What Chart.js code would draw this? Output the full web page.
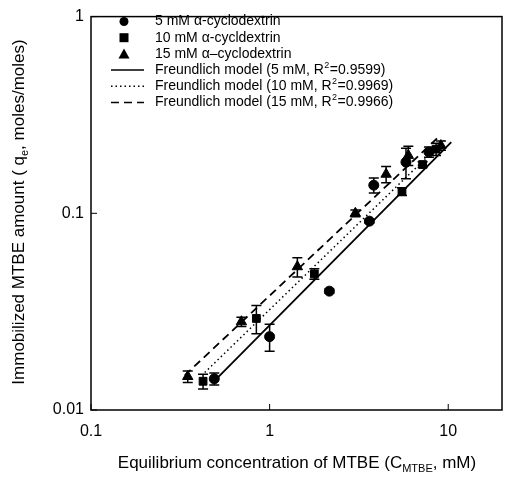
<!DOCTYPE html>
<html>
<head>
<meta charset="utf-8">
<script src="https://cdn.jsdelivr.net/npm/chart.js@4/dist/chart.umd.min.js"></script>
<style>
  html, body { margin: 0; padding: 0; background: #fff; }
  #wrap { width: 510px; height: 477px; }
</style>
</head>
<body>
<div id="wrap"><canvas id="myChart" width="510" height="477"></canvas></div>
<script>
//-- data ---->
var xTicks = [0.1, 1, 10];
var yTicks = [0.01, 0.1, 1];

// 5 mM alpha-cyclodextrin (circles)
var c5x   = [0.49, 1.0, 2.16, 3.62, 3.83, 5.8, 7.8];
var c5y   = [0.0144, 0.0236, 0.0402, 0.0912, 0.139, 0.182, 0.205];
var c5err = [0.001, 0.0037, 0.001, 0.002, 0.012, 0.032, 0.012];

// 10 mM alpha-cyclodextrin (squares)
var c10x   = [0.424, 0.843, 1.78, 5.51, 7.19, 8.55];
var c10y   = [0.0140, 0.0292, 0.0492, 0.129, 0.177, 0.212];
var c10err = [0.0012, 0.0048, 0.003, 0.006, 0.006, 0.015];

// 15 mM alpha-cyclodextrin (triangles)
var c15x   = [0.348, 0.695, 1.43, 3.02, 4.49, 5.98, 9.1];
var c15y   = [0.0148, 0.0281, 0.0535, 0.100, 0.158, 0.197, 0.221];
var c15err = [0.001, 0.0015, 0.006, 0.004, 0.015, 0.022, 0.012];

// Freundlich model lines (end points)
var fit5x  = [0.512, 10.4];
var fit5y  = [0.0146, 0.230];
var fit10x = [0.433, 9.5];
var fit10y = [0.0155, 0.235];
var fit15x = [0.335, 8.9];
var fit15y = [0.0150, 0.246];

var legendLabels = [
    '5 mM \u03b1-cyclodextrin',
    '10 mM \u03b1-cycldextrin',
    '15 mM \u03b1\u2013cyclodextrin',
    'Freundlich model (5 mM, R\u00b2=0.9599)',
    'Freundlich model (10 mM, R\u00b2=0.9969)',
    'Freundlich model (15 mM, R\u00b2=0.9966)'
];

function pts(xs, ys) {
    var out = [];
    for (let i = 0; i < xs.length; i++) out.push({x: xs[i], y: ys[i]});
    return out;
}

var FONT = '"Liberation Sans", Arial, Helvetica, sans-serif';

//-- error bars, frame, inner ticks, legend, axis titles ---->
var extras = {
    id: 'extras',
    afterDatasetsDraw: function(chart) {
        var ctx = chart.ctx;
        var xs = chart.scales.x, ys = chart.scales.y;
        var a = chart.chartArea;
        ctx.save();
        ctx.strokeStyle = '#000';
        ctx.fillStyle = '#000';

        // error bars
        ctx.lineWidth = 1.5;
        chart.data.datasets.forEach(function(ds) {
            if (!ds.errors) return;
            ds.data.forEach(function(p, i) {
                var px = xs.getPixelForValue(p.x);
                var top = ys.getPixelForValue(p.y + ds.errors[i]);
                var bot = ys.getPixelForValue(p.y - ds.errors[i]);
                ctx.beginPath();
                ctx.moveTo(px, top); ctx.lineTo(px, bot);
                ctx.moveTo(px - 5, top); ctx.lineTo(px + 5, top);
                ctx.moveTo(px - 5, bot); ctx.lineTo(px + 5, bot);
                ctx.stroke();
            });
        });

        // frame
        ctx.lineWidth = 1.5;
        ctx.strokeRect(a.left, a.top, a.right - a.left, a.bottom - a.top);

        // inner ticks
        ctx.lineWidth = 1;
        ctx.beginPath();
        xTicks.forEach(function(v) {
            var px = xs.getPixelForValue(v);
            ctx.moveTo(px, a.bottom); ctx.lineTo(px, a.bottom - 6);
        });
        yTicks.forEach(function(v) {
            var py = ys.getPixelForValue(v);
            ctx.moveTo(a.left, py); ctx.lineTo(a.left + 6, py);
        });
        ctx.stroke();

        // legend
        var lx = 124, tx = 155, ly = 21.5, step = 16.2;
        var lf = '14px ' + FONT;
        ctx.font = lf;
        ctx.textBaseline = 'middle';
        ctx.textAlign = 'left';
        chart.data.datasets.forEach(function(ds, i) {
            var y = ly + i * step;
            if (ds.type === 'line') {
                ctx.lineWidth = 1.5;
                ctx.setLineDash(ds.borderDash || []);
                ctx.beginPath();
                ctx.moveTo(lx - 13, y); ctx.lineTo(lx + 20, y);
                ctx.stroke();
                ctx.setLineDash([]);
            } else {
                ctx.beginPath();
                if (ds.pointStyle === 'circle') {
                    ctx.arc(lx, y, 4.5, 0, Math.PI * 2);
                } else if (ds.pointStyle === 'rect') {
                    ctx.rect(lx - 4.5, y - 4.5, 9, 9);
                } else {
                    ctx.moveTo(lx, y - 5.5); ctx.lineTo(lx + 5.5, y + 4.5); ctx.lineTo(lx - 5.5, y + 4.5);
                    ctx.closePath();
                }
                ctx.fill();
            }
            var txt = legendLabels[i];
            var k = txt.indexOf('\u00b2');
            if (k < 0) {
                ctx.fillText(txt, tx, y);
            } else {
                var before = txt.slice(0, k), after = txt.slice(k + 1);
                ctx.fillText(before, tx, y);
                var w = ctx.measureText(before).width;
                ctx.font = '9px ' + FONT;
                ctx.fillText('2', tx + w + 0.5, y - 5);
                var w2 = ctx.measureText('2').width;
                ctx.font = lf;
                ctx.fillText(after, tx + w + w2 + 1, y);
            }
        });

        // x title with subscript
        ctx.textBaseline = 'alphabetic';
        var big = '17px ' + FONT, small = '11px ' + FONT;
        var p1 = 'Equilibrium concentration of MTBE (C', p2 = 'MTBE', p3 = ', mM)';
        ctx.font = big; var w1 = ctx.measureText(p1).width, w3 = ctx.measureText(p3).width;
        ctx.font = small; var w2s = ctx.measureText(p2).width;
        var total = w1 + w2s + w3;
        var sx = 297 - total / 2, by = 468;
        ctx.font = big; ctx.fillText(p1, sx, by);
        ctx.font = small; ctx.fillText(p2, sx + w1, by + 4);
        ctx.font = big; ctx.fillText(p3, sx + w1 + w2s, by);

        // y title with subscript
        ctx.save();
        ctx.translate(24, 212);
        ctx.rotate(-Math.PI / 2);
        var q1 = 'Immobilized MTBE amount ( q', q2 = 'e', q3 = ', moles/moles)';
        ctx.font = big; var v1 = ctx.measureText(q1).width, v3 = ctx.measureText(q3).width;
        ctx.font = small; var v2 = ctx.measureText(q2).width;
        var sy = -(v1 + v2 + v3) / 2;
        ctx.font = big; ctx.fillText(q1, sy, 0);
        ctx.font = small; ctx.fillText(q2, sy + v1, 4);
        ctx.font = big; ctx.fillText(q3, sy + v1 + v2, 0);
        ctx.restore();

        ctx.restore();
    }
};

var ctx = document.getElementById('myChart');
var myChart = new Chart(ctx, {
    type: 'scatter',
    data: {
        datasets: [
            { label: legendLabels[0], data: pts(c5x, c5y), errors: c5err,
              pointStyle: 'circle', pointRadius: 5, backgroundColor: '#000', borderColor: '#000', order: 0 },
            { label: legendLabels[1], data: pts(c10x, c10y), errors: c10err,
              pointStyle: 'rect', pointRadius: 5.5, backgroundColor: '#000', borderColor: '#000', order: 0 },
            { label: legendLabels[2], data: pts(c15x, c15y), errors: c15err,
              pointStyle: 'triangle', pointRadius: 6, backgroundColor: '#000', borderColor: '#000', order: 0 },
            { type: 'line', label: legendLabels[3], data: pts(fit5x, fit5y),
              borderColor: '#000', borderWidth: 1.8, pointRadius: 0, fill: false, order: 1 },
            { type: 'line', label: legendLabels[4], data: pts(fit10x, fit10y), borderDash: [1.5, 3],
              borderColor: '#000', borderWidth: 1.5, pointRadius: 0, fill: false, order: 1 },
            { type: 'line', label: legendLabels[5], data: pts(fit15x, fit15y), borderDash: [8, 5],
              borderColor: '#000', borderWidth: 1.8, pointRadius: 0, fill: false, order: 1 }
        ]
    },
    options: {
        responsive: false,
        animation: false,
        layout: { padding: { top: 12, right: 8, left: 0, bottom: 0 } },
        plugins: { legend: { display: false }, tooltip: { enabled: false } },
        scales: {
            x: {
                type: 'logarithmic', min: 0.1, max: 20,
                afterBuildTicks: function(s) { s.ticks = xTicks.map(v => ({value: v})); },
                afterFit: function(s) { s.height = 67; },
                grid: { display: false, drawTicks: false },
                border: { display: false },
                ticks: { color: '#000', font: { family: FONT, size: 16 }, padding: 12,
                         maxRotation: 0, autoSkip: false, callback: v => String(v) }
            },
            y: {
                type: 'logarithmic', min: 0.01, max: 1,
                afterBuildTicks: function(s) { s.ticks = yTicks.map(v => ({value: v})); },
                afterFit: function(s) { s.width = 91; },
                grid: { display: false, drawTicks: false },
                border: { display: false },
                ticks: { color: '#000', font: { family: FONT, size: 16 }, padding: 7,
                         autoSkip: false, callback: v => String(v) }
            }
        }
    },
    plugins: [extras]
});
</script>
</body>
</html>
